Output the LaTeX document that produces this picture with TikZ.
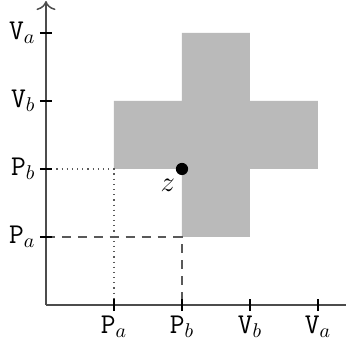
\documentclass[tikz,border=0pt]{standalone}
\usetikzlibrary{arrows.meta}
\begin{document}
\begin{tikzpicture}[x=1.2cm,y=1.2cm,font=\Large,
  axisline/.style={draw=black!70,line width=0.75pt},
  tickmark/.style={draw=black,line width=1.2pt},
  ticklabx/.style={anchor=north,inner sep=2pt},
  ticklaby/.style={anchor=east,inner sep=2pt},
  crossfill/.style={fill=black!27,draw=none},
  dotmark/.style={circle,fill=black,inner sep=0pt,minimum size=0.18cm*1.2}]
\useasboundingbox (-0.676,-0.529) rectangle (4.412,4.485);
% cross shape
\fill[crossfill] (2,1) -- (3,1) -- (3,2) -- (4,2) -- (4,3) -- (3,3) -- (3,4) -- (2,4) -- (2,3) -- (1,3) -- (1,2) -- (2,2) -- cycle;
% helper lines
\coordinate (O) at (0,0);
\coordinate (ya) at (0,1);
\coordinate (yb) at (0,2);
\coordinate (xa) at (1,0);
\coordinate (xb) at (2,0);
\coordinate (c1) at (2,1);
\coordinate (c2) at (1,2);
\draw[black!65,line width=0.75pt,dash pattern=on 4.5pt off 3.5pt] (ya) -- (c1) -- (xb);
\draw[black!65,line width=0.6pt,dotted] (yb) -- (c2) -- (xa);
% axes
\coordinate (xend) at (4.55,0);
\coordinate (yend) at (0,4.47);
\draw[axisline,-{To[scale=1.4]}] (O) -- (xend);
\draw[axisline,-{To[scale=1.4]}] (O) -- (yend);
% ticks x
\foreach \v/\lab/\nm in {1/{\texttt{P}$_a$}/tx1, 2/{\texttt{P}$_b$}/tx2, 3/{\texttt{V}$_b$}/tx3, 4/{\texttt{V}$_a$}/tx4}{
  \draw[tickmark] (\v,-0.09) -- (\v,0.09);
  \node[ticklabx] (\nm) at (\v,-0.09) {\lab};
}
% ticks y
\foreach \v/\lab/\nm in {1/{\texttt{P}$_a$}/ty1, 2/{\texttt{P}$_b$}/ty2, 3/{\texttt{V}$_b$}/ty3, 4/{\texttt{V}$_a$}/ty4}{
  \draw[tickmark] (-0.09,\v) -- (0.09,\v);
  \node[ticklaby] (\nm) at (-0.09,\v) {\lab};
}
% point z
\node[dotmark] (z) at (2,2) {};
\node[anchor=north east,inner sep=1pt] (zl) at (1.93,1.89) {$z$};
\end{tikzpicture}
\end{document}
